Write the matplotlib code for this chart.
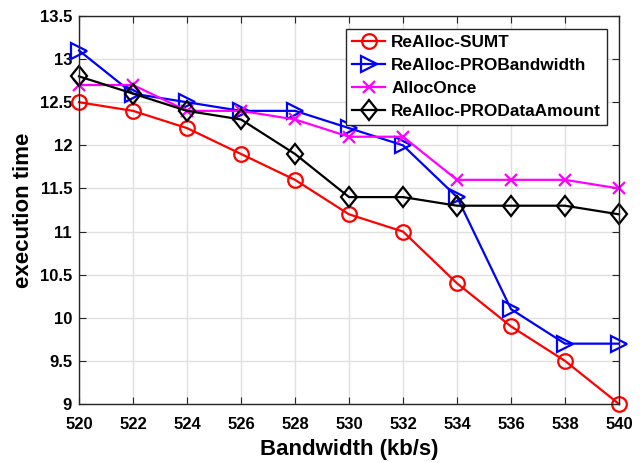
import matplotlib.pyplot as plt
import numpy as np
from matplotlib.markers import MarkerStyle
from matplotlib.transforms import Affine2D

plt.rcParams['font.family'] = ['Liberation Sans', 'DejaVu Sans']
plt.rcParams['font.weight'] = 'bold'

bandwidth = [520, 522, 524, 526, 528, 530, 532, 534, 536, 538, 540]
sumt = [12.5, 12.4, 12.2, 11.9, 11.6, 11.2, 11.0, 10.4, 9.9, 9.5, 9.0]
pro_bandwidth = [13.1, 12.6, 12.5, 12.4, 12.4, 12.2, 12.0, 11.4, 10.1, 9.7, 9.7]
alloc_once = [12.7, 12.7, 12.4, 12.4, 12.3, 12.1, 12.1, 11.6, 11.6, 11.6, 11.5]
pro_data_amount = [12.8, 12.6, 12.4, 12.3, 11.9, 11.4, 11.4, 11.3, 11.3, 11.3, 11.2]

fig = plt.figure(figsize=(6.44, 4.63), dpi=100)
ax = fig.add_axes([0.1227, 0.1274, 0.8385, 0.838])

lw = 1.6
diamond = MarkerStyle('D', transform=Affine2D().scale(0.78, 1.0))
common = dict(mew=lw, lw=lw, clip_on=False)
ax.plot(bandwidth, sumt, color='red', marker='o', markersize=10.5, mfc='none', label='ReAlloc-SUMT', **common)
ax.plot(bandwidth, pro_bandwidth, color='blue', marker='>', markersize=11, mfc='none', label='ReAlloc-PROBandwidth', **common)
ax.plot(bandwidth, alloc_once, color='magenta', marker='x', markersize=9, label='AllocOnce', **common)
ax.plot(bandwidth, pro_data_amount, color='black', marker=diamond, markersize=10, mfc='none', label='ReAlloc-PRODataAmount', **common)

ax.set_xlim(520, 540)
ax.set_ylim(9, 13.5)
ax.set_xticks(np.arange(520, 541, 2))
ax.set_yticks(np.arange(9, 13.51, 0.5))
ax.set_yticklabels(['9', '9.5', '10', '10.5', '11', '11.5', '12', '12.5', '13', '13.5'])
ax.tick_params(direction='in', labelsize=12, length=5, top=True, right=True,
               color='#262626', labelcolor='black')
ax.tick_params(axis='x', pad=9)
ax.tick_params(axis='y', pad=5)
for lab in ax.get_xticklabels() + ax.get_yticklabels():
    lab.set_fontweight('bold')
ax.grid(True, color='#e0e0e0', linewidth=1.0)
ax.set_axisbelow(True)
for s in ax.spines.values():
    s.set_color('#262626')
    s.set_linewidth(1.0)

ax.set_xlabel('Bandwidth (kb/s)', fontsize=16, fontweight='bold', labelpad=5.5)
ax.set_ylabel('execution time', fontsize=16, fontweight='bold', labelpad=4)

leg = ax.legend(loc='upper right', bbox_to_anchor=(0.978, 0.966),
                prop={'weight': 'bold', 'size': 12.4}, frameon=True, fancybox=False,
                edgecolor='#262626', framealpha=1, handlelength=1.9, borderpad=0.35,
                labelspacing=0.45, handletextpad=0.35, borderaxespad=0)
leg.get_frame().set_linewidth(1.0)

plt.savefig('out.png', dpi=100)
